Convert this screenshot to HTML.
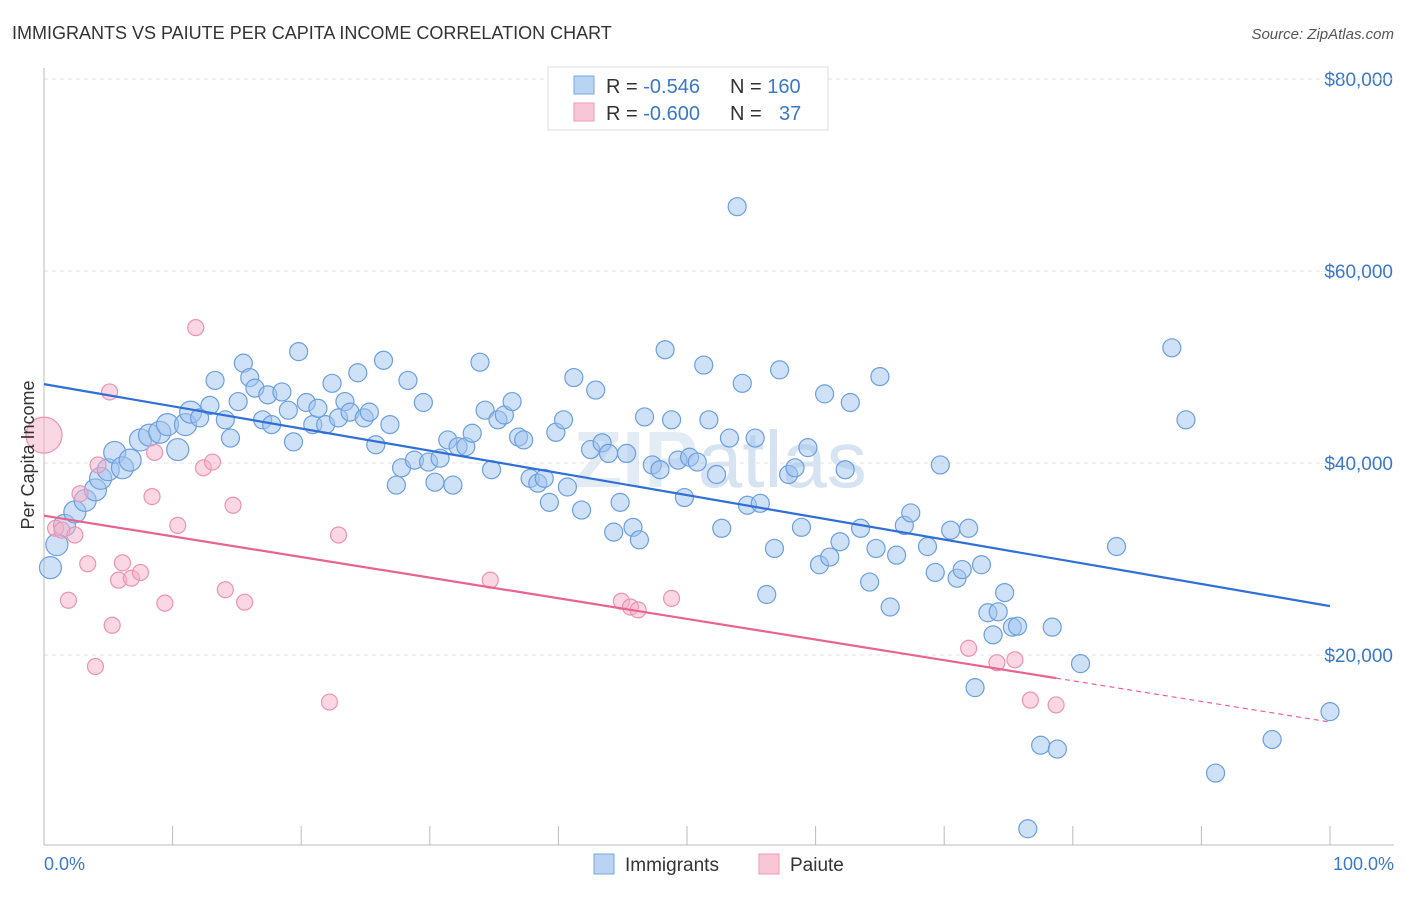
<!DOCTYPE html>
<html><head><meta charset="utf-8">
<style>
body{margin:0;background:#fff;font-family:"Liberation Sans",sans-serif;}
svg text{font-family:"Liberation Sans",sans-serif;}
</style></head>
<body>
<svg id="chart" width="1406" height="892">
<text x="12" y="39" font-size="18" fill="#333">IMMIGRANTS VS PAIUTE PER CAPITA INCOME CORRELATION CHART</text>
<text x="1394" y="39" font-size="15" fill="#555" text-anchor="end" font-style="italic">Source: ZipAtlas.com</text>
<text x="720" y="487" font-size="80" fill="#e3ebf5" text-anchor="middle" font-weight="bold">ZIP<tspan font-weight="normal" fill="#d5e3f3">atlas</tspan></text>
<g id="grid"></g><g id="axes"></g><g id="marks"></g>
<text transform="translate(34,455) rotate(-90)" font-size="18" fill="#333" text-anchor="middle">Per Capita Income</text>
<text x="44" y="870" font-size="18" fill="#3a78c9">0.0%</text>
<text x="1394" y="870" font-size="18" fill="#3a78c9" text-anchor="end">100.0%</text>
<g>
<rect x="548" y="67" width="280" height="63" fill="#fff" stroke="#ddd"/>
<rect x="574" y="76" width="20" height="18" fill="#b9d3f3" stroke="#7aa7e0"/>
<rect x="574" y="103" width="20" height="18" fill="#f9c6d6" stroke="#ee9ab4"/>
<text x="606" y="93" font-size="20" fill="#333">R = <tspan fill="#3a78c9">-0.546</tspan><tspan x="730">N = </tspan><tspan fill="#3a78c9">160</tspan></text>
<text x="606" y="120" font-size="20" fill="#333">R = <tspan fill="#3a78c9">-0.600</tspan><tspan x="730">N = </tspan><tspan x="779" fill="#3a78c9">37</tspan></text>
</g>
<g>
<rect x="594" y="854" width="20" height="20" fill="#b9d3f3" stroke="#7aa7e0"/>
<text x="625" y="871" font-size="19" fill="#333">Immigrants</text>
<rect x="759" y="854" width="20" height="20" fill="#f9c6d6" stroke="#ee9ab4"/>
<text x="790" y="871" font-size="19" fill="#333">Paiute</text>
</g>
</svg>
<script>
const yTicks=[20000,40000,60000,80000];
const yTickLabels=["$20,000","$40,000","$60,000","$80,000"];
const xTicks=[0,10,20,30,40,50,60,70,80,90,100];
const blueX=[0.5,1.0,1.6,2.4,3.2,4.0,4.4,5.0,5.5,6.1,6.7,7.5,8.2,9.0,9.6,10.4,11.0,11.4,12.1,12.9,13.3,14.1,14.5,15.1,15.5,16.0,16.4,17.0,17.4,17.7,18.5,19.0,19.4,19.8,20.4,20.9,21.3,21.9,22.4,22.9,23.4,23.8,24.4,24.9,25.3,25.8,26.4,26.9,27.4,27.8,28.3,28.8,29.5,29.9,30.4,30.8,31.4,31.8,32.2,32.8,33.3,33.9,34.3,34.8,35.3,35.8,36.4,36.9,37.3,37.8,38.4,38.9,39.3,39.8,40.4,40.7,41.2,41.8,42.5,42.9,43.4,43.9,44.3,44.8,45.3,45.8,46.3,46.7,47.3,47.9,48.3,48.8,49.3,49.8,50.2,50.8,51.3,51.7,52.3,52.7,53.3,53.9,54.3,54.7,55.3,55.7,56.2,56.8,57.2,57.9,58.4,58.9,59.4,60.3,60.7,61.1,61.9,62.3,62.7,63.5,64.2,64.7,65.0,65.8,66.3,66.9,67.4,68.7,69.3,69.7,70.5,71.0,71.4,71.9,72.4,72.9,73.4,73.8,74.2,74.7,75.3,75.7,76.5,77.5,78.4,78.8,80.6,83.4,87.7,88.8,91.1,95.5,100];
const blueY=[29.1,31.5,33.5,34.9,36.1,37.2,38.4,39.3,41.1,39.5,40.3,42.4,42.9,43.2,44.0,41.4,44.0,45.3,44.7,46.0,48.6,44.5,42.6,46.4,50.4,48.9,47.8,44.5,47.1,44.0,47.4,45.5,42.2,51.6,46.3,44.0,45.7,44.0,48.3,44.7,46.4,45.3,49.4,44.7,45.3,41.9,50.7,44.0,37.7,39.5,48.6,40.3,46.3,40.1,38.0,40.5,42.4,37.7,41.7,41.7,43.1,50.5,45.5,39.3,44.5,45.0,46.4,42.7,42.4,38.4,37.9,38.4,35.9,43.2,44.5,37.5,48.9,35.1,41.4,47.6,42.1,41.0,32.8,35.9,41.0,33.3,32.0,44.8,39.8,39.3,51.8,44.5,40.3,36.4,40.6,40.1,50.2,44.5,38.8,33.2,42.6,66.7,48.3,35.6,42.6,35.8,26.3,31.1,49.7,38.8,39.5,33.3,41.6,29.4,47.2,30.2,31.8,39.3,46.3,33.2,27.6,31.1,49.0,25.0,30.4,33.5,34.8,31.3,28.6,39.8,33.0,28.0,28.9,33.2,16.6,29.4,24.4,22.1,24.5,26.5,22.9,23.0,1.9,10.6,22.9,10.2,19.1,31.3,52.0,44.5,7.7,11.2,14.1];
const pinkX=[0,0.9,1.4,1.9,2.4,2.8,3.4,4.0,4.2,5.1,5.3,5.8,6.1,6.8,7.5,8.4,8.6,9.4,10.4,11.8,12.4,13.1,14.1,14.7,15.6,22.2,22.9,34.7,44.9,45.6,46.2,48.8,71.9,74.1,75.5,76.7,78.7];
const pinkY=[42.9,33.2,33.0,25.7,32.5,36.8,29.5,18.8,39.8,47.4,23.1,27.8,29.6,28.0,28.6,36.5,41.1,25.4,33.5,54.1,39.5,40.1,26.8,35.6,25.5,15.1,32.5,27.8,25.6,25.0,24.7,25.9,20.7,19.2,19.5,15.3,14.8];
const NS="http://www.w3.org/2000/svg";
const X0=44,X1=1330,Y0=847,PX=192/20000;
function sx(v){return X0+(X1-X0)*v/100;}
function sy(v){return Y0-v*PX;}
function mk(tag,attrs,parent){const e=document.createElementNS(NS,tag);for(const k in attrs)e.setAttribute(k,attrs[k]);parent.appendChild(e);return e;}
const grid=document.getElementById('grid'),axes=document.getElementById('axes'),marks=document.getElementById('marks');
yTicks.forEach((t,i)=>{
 const l=mk('line',{x1:X0,x2:1394,y1:sy(t),y2:sy(t),stroke:'#e3e3e3','stroke-dasharray':'4,4'},grid);
 
 
 const tx=mk('text',{x:1393,y:sy(t)+7,'font-size':19,fill:'#3a78c9','text-anchor':'end'},grid);
 tx.textContent=yTickLabels[i];
 
 
});
const topGrid=mk('line',{x1:X0,x2:1394,y1:79,y2:79,stroke:'#e3e3e3','stroke-dasharray':'4,4'},grid);


const ax=mk('line',{x1:X0,x2:1394,y1:845,y2:845,stroke:'#bbb'},axes);


const ay=mk('line',{x1:X0,x2:X0,y1:68,y2:845,stroke:'#bbb'},axes);


xTicks.forEach(t=>{
 const l=mk('line',{x1:sx(t),x2:sx(t),y1:826,y2:845,stroke:'#bbb'},axes);
 
 
});
function fit(xs,ys){const n=xs.length;let mx=0,my=0;for(let i=0;i<n;i++){mx+=xs[i];my+=ys[i];}mx/=n;my/=n;let sxy=0,sxx=0;for(let i=0;i<n;i++){sxy+=(xs[i]-mx)*(ys[i]-my);sxx+=(xs[i]-mx)**2;}const b=sxy/sxx;return [my-b*mx,b];}
function pts(xs,ys,fill,stroke,name,big){
 xs.forEach((x,i)=>{
  let r=9;if(big&&x<12)r=11;if(name==='paiute-point')r=(i===0?18:8);
  const c=mk('circle',{cx:sx(x),cy:sy(ys[i]*1000),r:r,fill:fill,stroke:stroke,'stroke-width':1.2},marks);
  
  
 });
}
pts(blueX,blueY,'rgba(160,196,240,0.5)','#6b9fe0','immigrants-point',true);
pts(pinkX,pinkY,'rgba(246,176,200,0.5)','#ec93b2','paiute-point',false);
const fb=fit(blueX,blueY);
const bl=mk('line',{x1:sx(0),y1:sy(fb[0]*1000),x2:sx(100),y2:sy((fb[0]+fb[1]*100)*1000),stroke:'#2f6fd6','stroke-width':2.2},marks);


const fp=fit(pinkX,pinkY);const pmax=Math.max(...pinkX);
const pl=mk('line',{x1:sx(0),y1:sy(fp[0]*1000),x2:sx(pmax),y2:sy((fp[0]+fp[1]*pmax)*1000),stroke:'#e8648f','stroke-width':2.2},marks);


const pd=mk('line',{x1:sx(pmax),y1:sy((fp[0]+fp[1]*pmax)*1000),x2:sx(100),y2:sy((fp[0]+fp[1]*100)*1000),stroke:'#e8648f','stroke-width':1.2,'stroke-dasharray':'5,4'},marks);


</script>
</body></html>
